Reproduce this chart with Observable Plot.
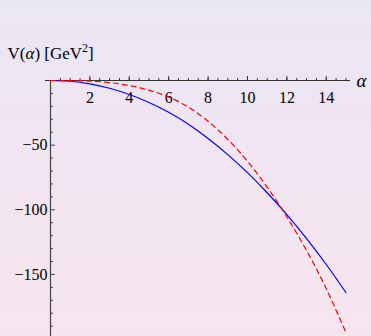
<!DOCTYPE html>
<html><head><meta charset="utf-8">
<script src="https://cdn.jsdelivr.net/npm/d3@7"></script>
<script src="https://cdn.jsdelivr.net/npm/@observablehq/plot@0.6"></script>
<style>
html,body{margin:0;padding:0;}
body{width:371px;height:336px;overflow:hidden;background:linear-gradient(180deg,#ebe6f5 0%,#f1e5f1 50%,#f7e5ee 100%);}
</style></head><body><div id="chart"></div>
<script>
const alphaValues = [0,1,2,3,4,5,6,7,8,9,10,11,12,13,14,15];
const vSolid  = [0,-0.6,-2.6,-6,-10.8,-17,-24.6,-33.8,-44.8,-57.3,-71.3,-86.8,-103.8,-122.3,-142.3,-164];
const vDashed = [0,-0.1,-0.5,-1.6,-3.9,-7.5,-12.8,-20.6,-31.5,-45.5,-62.5,-82.5,-105.5,-131.5,-161,-195];
const xTickLabels = [2,4,6,8,10,12,14];
const xMinorTicks = [0.5,1,1.5,2,2.5,3,3.5,4,4.5,5,5.5,6,6.5,7,7.5,8,8.5,9,9.5,10,10.5,11,11.5,12,12.5,13,13.5,14,14.5,15];
const yTickLabels = [-50,-100,-150];
const yMinorTicks = [-10,-20,-30,-40,-60,-70,-80,-90,-110,-120,-130,-140,-160,-170,-180,-190];
const titleText = "V(α) [GeV²]";
const xLabel = "α";

const solid = alphaValues.map((a,i)=>({a, v:vSolid[i]}));
const dashed = alphaValues.map((a,i)=>({a, v:vDashed[i]}));

const chart = Plot.plot({
  width:371, height:336,
  marginLeft:50, marginRight:21, marginTop:80, marginBottom:0,
  style:{background:"transparent", fontFamily:"'Liberation Serif','Times New Roman',serif", fontSize:"16px", color:"#000", overflow:"visible"},
  x:{domain:[0,15.23], label:null},
  y:{domain:[-198,0], label:null},
  marks:[
    Plot.ruleY([0],{stroke:"#333", strokeWidth:1.2, insetLeft:-5}),
    Plot.ruleX([0],{stroke:"#444", strokeWidth:1.2}),
    Plot.axisX(xMinorTicks,{anchor:"top", tickSize:3, stroke:"#333", tickFormat:()=>"", label:null}),
    Plot.axisX(xTickLabels,{anchor:"top", tickSize:5, stroke:"#333", tickFormat:()=>"", label:null}),
    Plot.axisX(xTickLabels,{anchor:"top", tickSize:0, tickPadding:-22, fontSize:16, fill:"#000", label:null}),
    Plot.ruleY(yMinorTicks,{stroke:"#444", insetRight:297}),
    Plot.ruleY(yTickLabels,{stroke:"#444", insetRight:295}),
    Plot.axisY(yTickLabels,{anchor:"left", tickSize:0, tickPadding:3, fontSize:16, fill:"#000", label:null}),
    Plot.line(solid,{x:"a", y:"v", stroke:"#0000ff", strokeWidth:1.2, curve:"natural"}),
    Plot.line(dashed,{x:"a", y:"v", stroke:"#ff0000", strokeWidth:1.2, strokeDasharray:"5,4", curve:"natural"}),
    Plot.text([titleText],{frameAnchor:"top-left", dx:-43, dy:-27, textAnchor:"start", lineAnchor:"middle", fontSize:17, fill:"#000"}),
    Plot.text([xLabel],{frameAnchor:"top-right", dx:6, textAnchor:"start", lineAnchor:"middle", fontSize:19, fontStyle:"italic", fill:"#000"})
  ]
});
document.getElementById("chart").appendChild(chart);
// italic alpha and superscript in title
chart.querySelectorAll("text").forEach(t=>{
  if (t.textContent === titleText) {
    const ns = "http://www.w3.org/2000/svg";
    t.textContent = "";
    const parts = [["V(",{}],["α",{"font-style":"italic"}],[") [GeV",{}],["2",{"font-size":"12","dy":"-7"}],["]",{"dy":"7"}]];
    for (const [s,attrs] of parts) {
      const sp = document.createElementNS(ns,"tspan");
      sp.textContent = s;
      for (const k in attrs) sp.setAttribute(k, attrs[k]);
      t.appendChild(sp);
    }
  }
});
</script></body></html>
